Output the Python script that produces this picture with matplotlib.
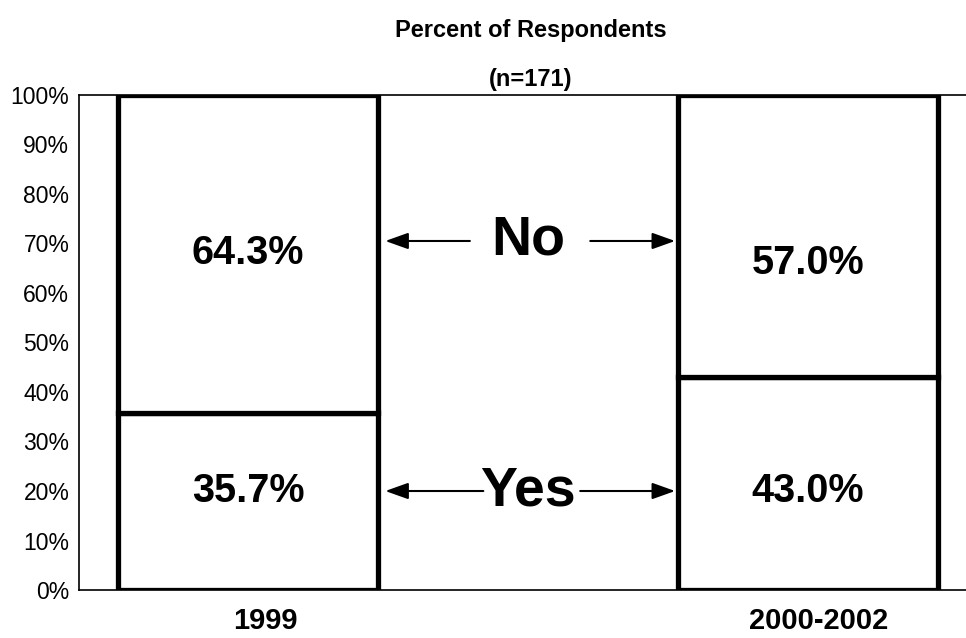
import matplotlib.pyplot as plt
import matplotlib.transforms as mtransforms
from matplotlib.ticker import PercentFormatter

categories = ["1999", "2000-2002"]
yes_pct = [35.7, 43.0]
no_pct = [64.3, 57.0]
yes_label_y = [20, 20]
no_label_y = [68, 66]

plt.rcParams['font.family'] = ['Liberation Sans', 'DejaVu Sans']

fig = plt.figure(figsize=(9.66, 6.38), dpi=100)
ax = fig.add_axes([0.0818, 0.0752, 0.9182, 0.776])

x = list(range(len(categories)))
w = 0.464
ax.bar(x, yes_pct, width=w, facecolor="white", edgecolor="black", linewidth=3.8)
ax.bar(x, no_pct, width=w, bottom=yes_pct, facecolor="white", edgecolor="black", linewidth=3.8)

for i in x:
    ax.text(i, yes_label_y[i], f"{yes_pct[i]:.1f}%", ha="center", va="center",
            fontsize=28.5, fontweight="bold")
    ax.text(i, no_label_y[i], f"{no_pct[i]:.1f}%", ha="center", va="center",
            fontsize=28.5, fontweight="bold")

# No / Yes labels with arrows pointing to both bars
for lab, yy, t1, t2 in [("No", 70.5, 0.396, 0.611), ("Yes", 20, 0.42, 0.593)]:
    ax.text(0.5, yy, lab, ha="center", va="center", fontsize=40, fontweight="bold")
    arrow = dict(arrowstyle="-|>,head_length=1.4,head_width=0.5", color="black", lw=1.5,
                 shrinkA=0, shrinkB=0)
    ax.annotate("", xy=(0.245, yy), xytext=(t1, yy), arrowprops=arrow)
    ax.annotate("", xy=(0.7625, yy), xytext=(t2, yy), arrowprops=arrow)

ax.set_xlim(-0.302, 1.282)
ax.set_ylim(0, 100)
ax.set_yticks(range(0, 101, 10))
ax.yaxis.set_major_formatter(PercentFormatter(decimals=0))
ax.set_xticks(x)
ax.set_xticklabels(categories, fontsize=21, fontweight="bold")
ax.tick_params(axis="both", length=0)
ax.tick_params(axis="y", labelsize=16.5, pad=7)
ax.tick_params(axis="x", pad=12)
# category labels sit a little right of the bar centres in the original
for lbl, dx in zip(ax.get_xticklabels(), [17, 11]):
    lbl.set_transform(lbl.get_transform() +
                      mtransforms.ScaledTranslation(dx / 100, 0, fig.dpi_scale_trans))
ax.spines["right"].set_visible(False)
for s in ["left", "top", "bottom"]:
    ax.spines[s].set_linewidth(1.2)

fig.text(0.549, 0.952, "Percent of Respondents", ha="center", va="center",
         fontsize=17, fontweight="bold")
fig.text(0.549, 0.876, "(n=171)", ha="center", va="center",
         fontsize=17, fontweight="bold")

fig.savefig("out.png", dpi=100)
